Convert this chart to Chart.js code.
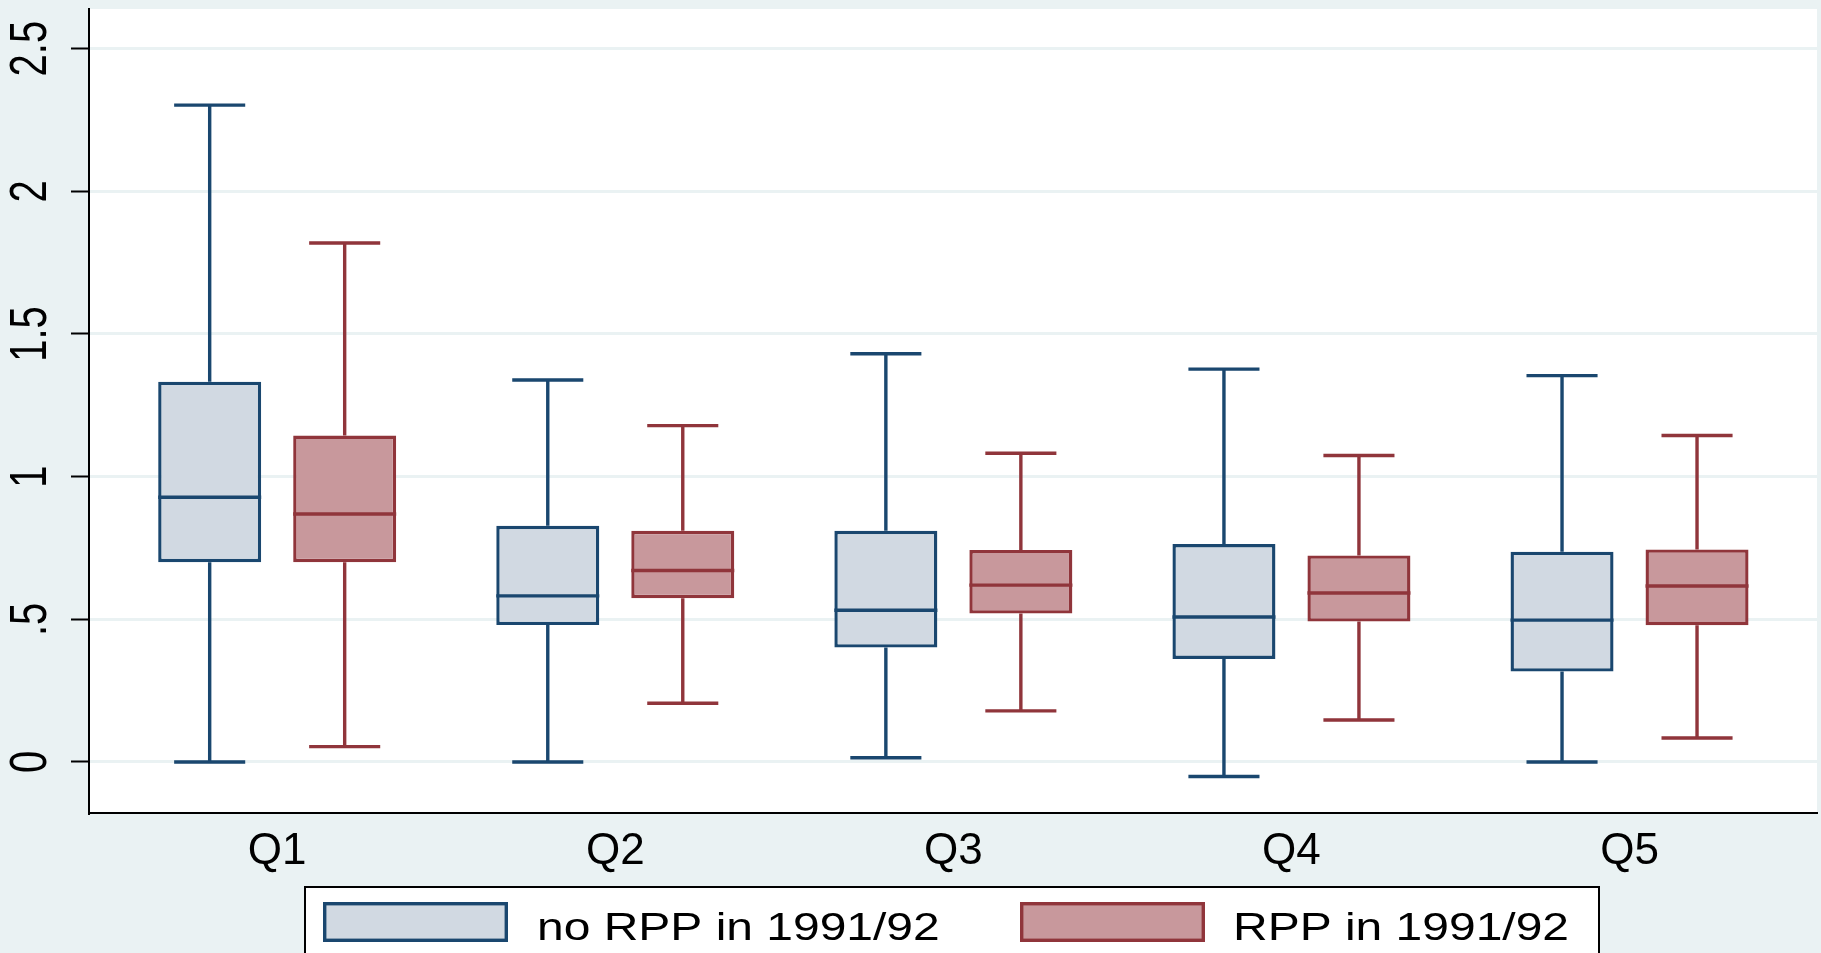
<!DOCTYPE html>
<html>
<head>
<meta charset="utf-8">
<script src="https://cdn.jsdelivr.net/npm/chart.js@4"></script>
<style>
  html, body { margin: 0; padding: 0; background: #eaf2f3; }
  canvas { display: block; }
</style>
</head>
<body>
<canvas id="boxChart" width="1821" height="953"></canvas>
<script>
// Kategori dan seri
const categories = ['Q1', 'Q2', 'Q3', 'Q4', 'Q5'];
const seriesNames = ['no RPP in 1991/92', 'RPP in 1991/92'];

// no RPP in 1991/92
const noMin = [0, 0, 0.015, -0.051, 0];
const noQ1 = [0.700, 0.480, 0.401, 0.361, 0.317];
const noMed = [0.928, 0.582, 0.532, 0.508, 0.497];
const noQ3 = [1.333, 0.828, 0.810, 0.764, 0.737];
const noMax = [2.302, 1.339, 1.431, 1.377, 1.354];

// RPP in 1991/92
const rppMin = [0.054, 0.206, 0.179, 0.147, 0.084];
const rppQ1 = [0.700, 0.574, 0.520, 0.492, 0.479];
const rppMed = [0.869, 0.671, 0.620, 0.592, 0.617];
const rppQ3 = [1.144, 0.810, 0.743, 0.724, 0.745];
const rppMax = [1.819, 1.179, 1.082, 1.074, 1.144];

// Sumbu Y
const yTicks = [0, 0.5, 1, 1.5, 2, 2.5];
const yTickLabels = ['0', '.5', '1', '1.5', '2', '2.5'];

const bgColor = '#eaf2f3';
const lineColors = ['#1a476f', '#90353b'];
const fillColors = ['#d1d9e2', '#c8989c'];

const stats = [
    { min: noMin, q1: noQ1, med: noMed, q3: noQ3, max: noMax },
    { min: rppMin, q1: rppQ1, med: rppMed, q3: rppQ3, max: rppMax }
];

function boxData(s) {
    return categories.map((c, i) => ({ x: i + 1, y: [s.q1[i], s.q3[i]] }));
}

function stretchText(ctx, text, x, y, sx, rot, align, baseline) {
    ctx.save();
    ctx.translate(x, y);
    ctx.scale(sx, 1);
    if (rot) ctx.rotate(rot);
    ctx.textAlign = align;
    ctx.textBaseline = baseline;
    ctx.fillText(text, 0, 0);
    ctx.restore();
}

// Whisker, median, label Y dan legenda
const boxPlugin = {
    id: 'boxParts',
    beforeDraw(chart) {
        const { ctx, chartArea: a } = chart;
        ctx.save();
        ctx.fillStyle = bgColor;
        ctx.fillRect(0, 0, chart.width, chart.height);
        ctx.fillStyle = '#ffffff';
        ctx.fillRect(a.left, a.top, a.right - a.left, a.bottom - a.top);
        ctx.restore();
    },
    beforeDatasetsDraw(chart) {
        const ctx = chart.ctx;
        const y = chart.scales.y;
        ctx.save();
        ctx.lineWidth = 3.4;
        stats.forEach((s, d) => {
            ctx.strokeStyle = lineColors[d];
            chart.getDatasetMeta(d).data.forEach((bar, i) => {
                const cap = bar.width * 0.69;
                ctx.beginPath();
                ctx.moveTo(bar.x, y.getPixelForValue(s.q3[i]));
                ctx.lineTo(bar.x, y.getPixelForValue(s.max[i]));
                ctx.moveTo(bar.x, y.getPixelForValue(s.q1[i]));
                ctx.lineTo(bar.x, y.getPixelForValue(s.min[i]));
                ctx.moveTo(bar.x - cap / 2, y.getPixelForValue(s.max[i]));
                ctx.lineTo(bar.x + cap / 2, y.getPixelForValue(s.max[i]));
                ctx.moveTo(bar.x - cap / 2, y.getPixelForValue(s.min[i]));
                ctx.lineTo(bar.x + cap / 2, y.getPixelForValue(s.min[i]));
                ctx.stroke();
            });
        });
        ctx.restore();
    },
    afterDatasetsDraw(chart) {
        const ctx = chart.ctx;
        const y = chart.scales.y;
        ctx.save();
        ctx.lineWidth = 3.4;
        stats.forEach((s, d) => {
            ctx.strokeStyle = lineColors[d];
            chart.getDatasetMeta(d).data.forEach((bar, i) => {
                const py = y.getPixelForValue(s.med[i]);
                ctx.beginPath();
                ctx.moveTo(bar.x - bar.width / 2, py);
                ctx.lineTo(bar.x + bar.width / 2, py);
                ctx.stroke();
            });
        });
        ctx.restore();
    },
    afterDraw(chart) {
        const ctx = chart.ctx;
        const y = chart.scales.y;
        ctx.save();
        ctx.fillStyle = '#000';
        ctx.font = '40px "Liberation Sans", Arial, sans-serif';
        yTicks.forEach((v, i) => {
            stretchText(ctx, yTickLabels[i], 31.5, y.getPixelForValue(v), 1.3, -Math.PI / 2, 'center', 'middle');
        });

        // legenda
        ctx.fillStyle = '#ffffff';
        ctx.fillRect(305, 887, 1294, 100);
        ctx.strokeStyle = '#000';
        ctx.lineWidth = 2;
        ctx.strokeRect(305, 887, 1294, 100);
        const swatchX = [323, 1020];
        const textX = [537, 1233];
        seriesNames.forEach((name, d) => {
            ctx.fillStyle = fillColors[d];
            ctx.fillRect(swatchX[d], 902, 185, 40);
            ctx.strokeStyle = lineColors[d];
            ctx.lineWidth = 3.4;
            ctx.strokeRect(swatchX[d] + 1.7, 903.7, 181.6, 36.6);
            ctx.fillStyle = '#000';
            ctx.font = '39px "Liberation Sans", Arial, sans-serif';
            stretchText(ctx, name, textX[d], 940, 1.23, 0, 'left', 'alphabetic');
        });
        ctx.restore();
    }
};

const boxChart = new Chart(document.getElementById('boxChart'), {
    type: 'bar',
    data: {
        datasets: stats.map((s, d) => ({
            label: seriesNames[d],
            data: boxData(s),
            backgroundColor: fillColors[d],
            borderColor: lineColors[d],
            borderWidth: 3.4,
            borderSkipped: false,
            categoryPercentage: 0.7986,
            barPercentage: 0.763
        }))
    },
    options: {
        responsive: false,
        devicePixelRatio: 1,
        animation: false,
        layout: { padding: { top: 9, right: 4, left: 0, bottom: 0 } },
        plugins: {
            legend: { display: false },
            tooltip: { enabled: false }
        },
        scales: {
            x: {
                type: 'linear',
                min: 0.4434,
                max: 5.5545,
                offset: false,
                afterBuildTicks: s => { s.ticks = categories.map((c, i) => ({ value: i + 1 })); },
                afterFit: s => { s.height = 140; },
                grid: { display: false, drawTicks: false },
                border: { display: true, color: '#000', width: 2 },
                ticks: {
                    callback: v => categories[v - 1],
                    font: { family: 'Liberation Sans', size: 44 },
                    color: '#000',
                    padding: 12,
                    maxRotation: 0,
                    autoSkip: false
                }
            },
            y: {
                type: 'linear',
                min: -0.1788,
                max: 2.639,
                afterBuildTicks: s => { s.ticks = yTicks.map(v => ({ value: v })); },
                afterFit: s => { s.width = 89; },
                grid: {
                    color: bgColor,
                    lineWidth: 3,
                    drawTicks: true,
                    tickLength: 18,
                    tickColor: '#000',
                    tickWidth: 2
                },
                border: { display: true, color: '#000', width: 2 },
                ticks: { display: false }
            }
        }
    },
    plugins: [boxPlugin]
});
</script>
</body>
</html>
